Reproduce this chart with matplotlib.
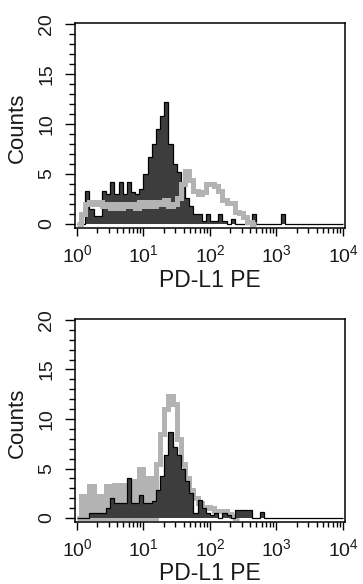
import matplotlib
matplotlib.use('Agg')
import matplotlib.pyplot as plt
import numpy as np
from matplotlib.ticker import MultipleLocator, LogLocator, NullFormatter, FuncFormatter

plt.rcParams['font.family'] = ['Liberation Sans', 'DejaVu Sans']
plt.rcParams['mathtext.fontset'] = 'custom'
plt.rcParams['mathtext.rm'] = 'Liberation Sans'
plt.rcParams['mathtext.it'] = 'Liberation Sans:italic'

# 64 log-spaced channels over 4 decades (10^0 .. 10^4), counts per channel
n_bins = 64
log_edges = np.linspace(0, 4, n_bins + 1)

top_dark = [0, 0, 3.3, 1.5, 0.8, 0.8, 3.3, 3.0, 4.2, 3.0,
            4.2, 3.0, 4.2, 3.2, 3.0, 3.5, 5.0, 6.7, 8.0, 9.5,
            10.8, 12.2, 8.0, 6.0, 5.2, 4.0, 2.6, 1.8, 1.0, 1.0,
            0.3, 1.0, 0.3, 0.3, 1.0, 0.3, 0, 0.5, 0, 0,
            0, 0, 1.0, 0, 0, 0, 0, 0, 0, 1.0]
top_gray = [0, 1.0, 2.0, 2.2, 2.0, 2.2, 1.8, 2.0, 1.6, 2.0,
            1.6, 2.0, 1.8, 2.0, 1.6, 2.2, 1.8, 2.2, 1.8, 2.2,
            2.0, 2.4, 1.8, 2.0, 2.6, 4.0, 5.3, 4.4, 3.3, 3.0,
            3.2, 4.0, 4.0, 3.8, 3.3, 2.4, 2.1, 2.1, 1.2, 1.1,
            0.7, 0.2, 0]

bottom_dark = [0, 0, 0, 0.5, 0.5, 0.5, 0.5, 1.0, 2.0, 1.5,
               1.5, 1.5, 4.0, 1.5, 1.5, 2.3, 1.5, 1.5, 1.7, 2.8,
               4.2, 6.4, 8.7, 7.2, 6.4, 5.0, 3.7, 2.5, 0.5, 1.8,
               1.0, 0.5, 0.3, 0.5, 0, 0.5, 0.3, 0, 0.8, 0.8,
               0.8, 0.8, 0, 0, 0.6]
# low channels of the gray sample are sparse (empty log channels)
bottom_gray = [0, 2.2, 0, 3.2, 0, 2.2, 0, 3.2, 0, 3.3,
               0, 3.3, 0, 3.7, 0, 5.0, 0, 4.0, 0, 5.5,
               8.5, 11.0, 12.3, 11.5, 8.0, 5.5, 4.0, 2.8, 2.0, 1.5,
               1.1, 1.1, 1.0, 0.7, 0.7, 0.7, 0.4, 0.2, 0]

x_label = 'PD-L1 PE'
y_label = 'Counts'

DARK = '#3d3d3d'
GRAY = '#b3b3b3'
TXT = '#1a1a1a'


def pad(vals, fill=0.0):
    v = np.full(n_bins, fill)
    v[:len(vals)] = vals
    return v


def style_axis(ax):
    ax.set_xscale('log')
    ax.set_xlim(10 ** -0.03, 10 ** 4.03)
    ax.set_ylim(-0.4, 20.1)
    ax.xaxis.set_major_locator(LogLocator(base=10, numticks=10))
    ax.xaxis.set_minor_locator(LogLocator(base=10, subs=np.arange(2, 10), numticks=20))
    ax.xaxis.set_minor_formatter(NullFormatter())
    ax.xaxis.set_major_formatter(FuncFormatter(lambda v, p: r'$\mathregular{10^{%d}}$' % round(np.log10(v))))
    ax.yaxis.set_major_locator(MultipleLocator(5))
    ax.yaxis.set_minor_locator(MultipleLocator(1))
    ax.tick_params(which='both', direction='out', width=1.0, color='black', labelcolor=TXT)
    ax.tick_params(axis='x', which='major', length=5.8, labelsize=14, pad=6)
    ax.tick_params(axis='x', which='minor', length=3.6)
    ax.tick_params(axis='y', which='major', length=7.2, labelsize=14, pad=7, labelrotation=90)
    ax.tick_params(axis='y', which='minor', length=4.3)
    for lab in ax.get_yticklabels():
        lab.set_va('center')
    for s in ax.spines.values():
        s.set_linewidth(1.1)
    ax.set_xlabel(x_label, fontsize=16.5, color=TXT)
    ax.xaxis.set_label_coords(0.5, -0.255)
    ax.xaxis.label.set_va('center')
    ax.set_ylabel(y_label, fontsize=16, color=TXT)
    ax.yaxis.set_label_coords(-0.215, 0.49)
    ax.yaxis.label.set_va('center')


fig = plt.figure(figsize=(3.63, 5.84), dpi=100)
ax1 = fig.add_axes([0.2066, 0.6096, 0.7438, 0.351])
ax2 = fig.add_axes([0.2066, 0.1062, 0.7438, 0.3476])

edges = 10 ** log_edges

# top: gray overlay drawn above the dark filled histogram
ax1.stairs(pad(top_dark), edges, fill=True, color=DARK, zorder=2)
ax1.stairs(pad(top_dark), edges, color='black', lw=0.9, zorder=3)
ax1.stairs(pad(top_gray, np.nan), edges, color=GRAY, lw=3.6, zorder=4)

# bottom: dark filled histogram drawn above the gray
ax2.stairs(pad(bottom_gray, np.nan), edges, color=GRAY, lw=3.6, zorder=2)
ax2.stairs(pad(bottom_dark), edges, fill=True, color=DARK, zorder=3)
ax2.stairs(pad(bottom_dark), edges, color='black', lw=0.9, zorder=4)

style_axis(ax1)
style_axis(ax2)

fig.savefig('out.png', dpi=100)
